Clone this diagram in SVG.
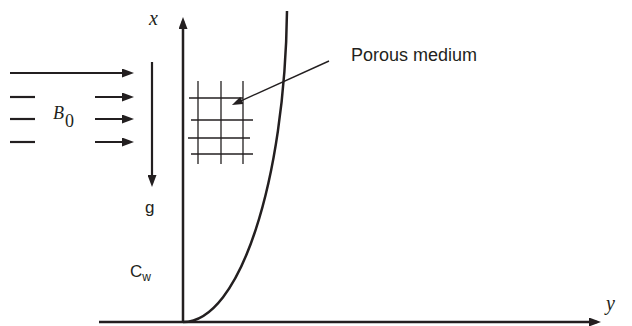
<svg xmlns="http://www.w3.org/2000/svg" width="632" height="326" viewBox="0 0 632 326">
<style>
  .ln{stroke:#231f20;fill:none;stroke-linecap:butt}
  .ax{stroke-width:2.5}
  .ar{stroke-width:2.2}
  .gr{stroke-width:1.3}
  .sans{font-family:"Liberation Sans",Arial,sans-serif;fill:#231f20}
  .ser{font-family:"Liberation Serif","Times New Roman",serif;fill:#231f20}
</style>
<defs>
  <marker id="ah" markerUnits="userSpaceOnUse" markerWidth="12" markerHeight="9" refX="8" refY="4.5" orient="auto">
    <path d="M0,0 L12,4.5 L0,9 z" fill="#231f20"/>
  </marker>
  <marker id="ahs" markerUnits="userSpaceOnUse" markerWidth="11" markerHeight="8" refX="7" refY="4" orient="auto">
    <path d="M0,0 L11,4 L0,8 z" fill="#231f20"/>
  </marker>
</defs>
<rect width="632" height="326" fill="#ffffff"/>

<g id="axes">
  <line class="ln ax" x1="183" y1="323" x2="183" y2="21" marker-end="url(#ah)"/>
  <line class="ln ax" x1="99" y1="322" x2="597" y2="322" marker-end="url(#ah)"/>
  <text class="ser" x="149" y="25" font-size="20" font-style="italic">x</text>
  <text class="ser" x="606" y="310" font-size="20" font-style="italic">y</text>
</g>

<g id="profile">
  <path class="ln" stroke-width="2.5" d="M183,322 C240,322 285,180 287,11"/>
</g>

<g id="field-B0">
  <line class="ln ar" x1="10" y1="73" x2="130" y2="73" marker-end="url(#ah)"/>
  <line class="ln ar" x1="10" y1="97" x2="35" y2="97"/>
  <line class="ln ar" x1="10" y1="119" x2="35" y2="119"/>
  <line class="ln ar" x1="10" y1="142" x2="35" y2="142"/>
  <line class="ln ar" x1="95" y1="97" x2="130" y2="97" marker-end="url(#ah)"/>
  <line class="ln ar" x1="95" y1="119" x2="130" y2="119" marker-end="url(#ah)"/>
  <line class="ln ar" x1="95" y1="142" x2="130" y2="142" marker-end="url(#ah)"/>
  <text class="ser" x="53" y="119" font-size="18" font-style="italic">B</text>
  <text class="ser" x="65" y="127" font-size="18">0</text>
</g>

<g id="gravity">
  <line class="ln ar" x1="152" y1="62" x2="152" y2="183" marker-end="url(#ah)"/>
  <text class="sans" x="145" y="213" font-size="17">g</text>
</g>

<g id="wall-concentration">
  <text class="sans" x="130" y="277" font-size="17">C<tspan font-size="12" dy="4">w</tspan></text>
</g>

<g id="porous-grid">
  <line class="ln gr" x1="198" y1="81" x2="198" y2="164"/>
  <line class="ln gr" x1="221" y1="81" x2="221" y2="164"/>
  <line class="ln gr" x1="243" y1="81" x2="243" y2="164"/>
  <line class="ln gr" x1="189" y1="98" x2="243" y2="98"/>
  <line class="ln gr" x1="191" y1="120" x2="253" y2="120"/>
  <line class="ln gr" x1="188" y1="138" x2="250" y2="138"/>
  <line class="ln gr" x1="191" y1="154" x2="253" y2="154"/>
</g>

<g id="porous-label">
  <line class="ln" stroke-width="1.4" x1="329" y1="61" x2="235.6" y2="103.3" marker-end="url(#ahs)"/>
  <text class="sans" x="351" y="61" font-size="18">Porous medium</text>
</g>
</svg>
